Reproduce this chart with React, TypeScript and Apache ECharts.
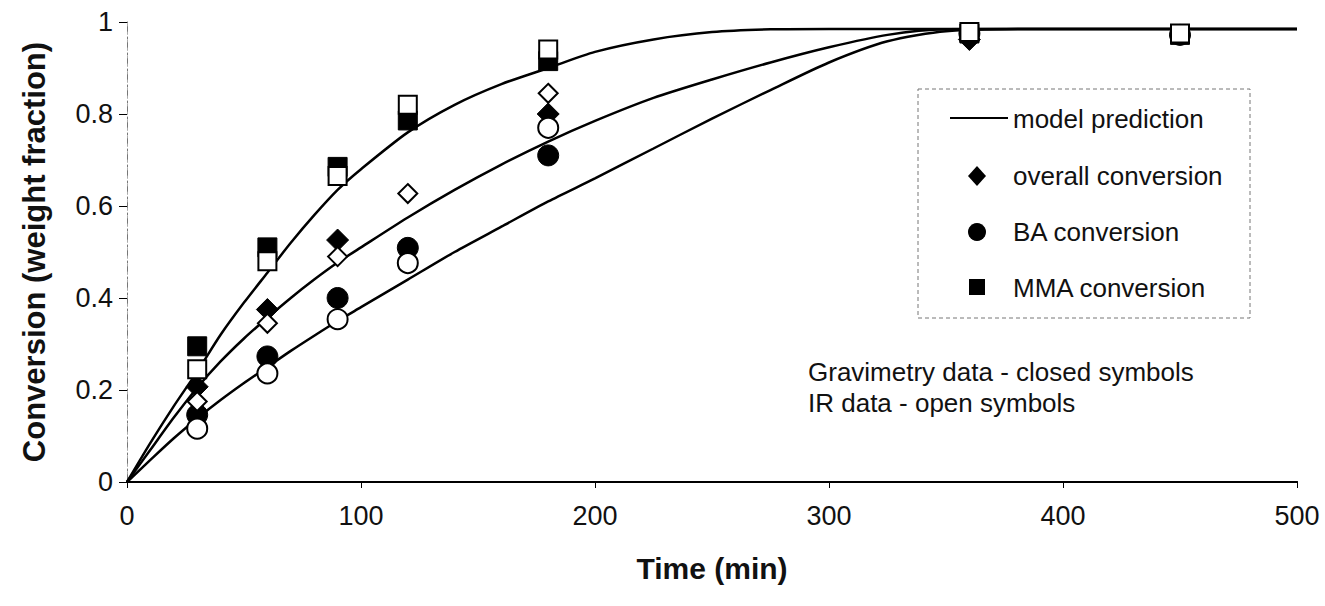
import { useEffect, useRef } from "react";
import * as echarts from "echarts";

// Sampling times (min) of the measured conversions
const sampleTimes = [30, 60, 90, 120, 180, 360, 450];

// Measured conversions: gravimetry (closed symbols) and IR (open symbols)
const overallGrav = [0.207, 0.375, 0.526, null, 0.8, 0.962, null];
const overallIR = [0.175, 0.345, 0.49, 0.627, 0.845, null, null];
const baGrav = [0.146, 0.273, 0.4, 0.509, 0.71, 0.975, 0.972];
const baIR = [0.116, 0.236, 0.354, 0.476, 0.77, null, null];
const mmaGrav = [0.295, 0.51, 0.685, 0.786, 0.915, 0.975, 0.972];
const mmaIR = [0.245, 0.48, 0.665, 0.82, 0.94, 0.978, 0.975];

// Model prediction curves
const modelTimes = [0, 10, 20, 30, 40, 50, 60, 70, 80, 90, 100, 120, 140, 160, 180, 200, 225, 250, 275, 300, 325, 350, 400, 500];
const modelMMA = [0, 0.085, 0.165, 0.24, 0.32, 0.39, 0.455, 0.52, 0.58, 0.635, 0.68, 0.76, 0.82, 0.865, 0.9, 0.935, 0.962, 0.978, 0.984, 0.985, 0.985, 0.985, 0.985, 0.985];
const modelOverall = [0, 0.07, 0.14, 0.205, 0.262, 0.312, 0.357, 0.4, 0.44, 0.477, 0.51, 0.575, 0.635, 0.69, 0.74, 0.785, 0.835, 0.875, 0.912, 0.945, 0.972, 0.984, 0.985, 0.985];
const modelBA = [0, 0.048, 0.095, 0.138, 0.178, 0.215, 0.25, 0.285, 0.318, 0.35, 0.38, 0.44, 0.5, 0.555, 0.61, 0.66, 0.725, 0.79, 0.852, 0.912, 0.958, 0.98, 0.985, 0.985];

const xTickStep = 100;
const yTickStep = 0.2;

const FONT = "'Liberation Sans', Arial, Helvetica, sans-serif";

const pairs = (xs: number[], ys: (number | null)[]) =>
  xs.map((x, i) => [x, ys[i]]).filter((p) => p[1] !== null);

export default function App() {
  const ref = useRef<HTMLDivElement>(null);

  useEffect(() => {
    document.body.style.margin = "0";
    if (!ref.current) return;
    const chart = echarts.init(ref.current, null, { renderer: "svg" });

    const lineSeries = (name: string, ys: number[]) => ({
      name,
      type: "line",
      data: pairs(modelTimes, ys),
      showSymbol: false,
      smooth: 0.25,
      lineStyle: { color: "#000", width: 2.5 },
      z: 2,
      silent: true,
    });

    const closed = (name: string, symbol: string, size: number, ys: (number | null)[]) => ({
      name,
      type: "scatter",
      symbol,
      symbolSize: size,
      data: pairs(sampleTimes, ys),
      itemStyle: { color: "#000", borderColor: "#000", borderWidth: 1, opacity: 1 },
      z: 3,
    });

    const open = (name: string, symbol: string, size: number, ys: (number | null)[]) => ({
      name,
      type: "scatter",
      symbol,
      symbolSize: size,
      data: pairs(sampleTimes, ys),
      itemStyle: { color: "#fff", borderColor: "#000", borderWidth: 2, opacity: 1 },
      z: 4,
    });

    const legendX = 918;
    const legendY = 89;
    const symX = 977;
    const textX = 1013;
    const legendText = (text: string, y: number) => ({
      type: "text",
      x: textX,
      y,
      style: { text, fontSize: 26, fontFamily: FONT, fill: "#111", verticalAlign: "middle" },
    });

    chart.setOption({
      animation: false,
      backgroundColor: "#fff",
      grid: { left: 127, right: 28, top: 22, bottom: 124, containLabel: false },
      xAxis: [
        {
          type: "value",
          min: 0,
          max: 500,
          interval: xTickStep,
          position: "bottom",
          axisLine: { show: true, lineStyle: { color: "#000", width: 2 } },
          axisTick: { show: true, length: 6, lineStyle: { color: "#000", width: 1 } },
          axisLabel: { fontSize: 27, color: "#111", fontFamily: FONT, margin: 20 },
          splitLine: { show: false },
          name: "Time (min)",
          nameLocation: "middle",
          nameGap: 71,
          nameTextStyle: { fontSize: 30, fontWeight: "bold", color: "#111", fontFamily: FONT },
        },
        {
          type: "value",
          min: 0,
          max: 500,
          position: "top",
          axisLine: { show: true, lineStyle: { color: "#000", width: 2 } },
          axisTick: { show: false },
          axisLabel: { show: false },
          splitLine: { show: false },
        },
      ],
      yAxis: [
        {
          type: "value",
          min: 0,
          max: 1,
          interval: yTickStep,
          position: "left",
          axisLine: { show: true, lineStyle: { color: "#777", width: 1, type: [8, 3, 2, 3] } },
          axisTick: { show: true, length: 8, lineStyle: { color: "#000", width: 1 } },
          axisLabel: { fontSize: 27, color: "#111", fontFamily: FONT, margin: 14 },
          splitLine: { show: false },
          name: "Conversion (weight fraction)",
          nameLocation: "middle",
          nameGap: 77,
          nameTextStyle: { fontSize: 31, fontWeight: "bold", color: "#111", fontFamily: FONT },
        },
        {
          type: "value",
          min: 0,
          max: 1,
          position: "right",
          axisLine: { show: true, lineStyle: { color: "#aaa", width: 1, type: [2, 6] } },
          axisTick: { show: false },
          axisLabel: { show: false },
          splitLine: { show: false },
        },
      ],
      series: [
        lineSeries("model prediction", modelMMA),
        lineSeries("model prediction", modelOverall),
        lineSeries("model prediction", modelBA),
        closed("overall conversion (gravimetry)", "diamond", 22, overallGrav),
        closed("BA conversion (gravimetry)", "circle", 21, baGrav),
        closed("MMA conversion (gravimetry)", "rect", 19, mmaGrav),
        open("overall conversion (IR)", "diamond", 19, overallIR),
        open("BA conversion (IR)", "circle", 20, baIR),
        open("MMA conversion (IR)", "rect", 18, mmaIR),
      ],
      graphic: [
        {
          type: "rect",
          silent: true,
          shape: { x: legendX, y: legendY, width: 332, height: 229 },
          style: { fill: "#fff", stroke: "#777", lineWidth: 1, lineDash: [4, 3] },
          z: 10,
        },
        {
          type: "line",
          silent: true,
          shape: { x1: 950, y1: 118, x2: 1008, y2: 118 },
          style: { stroke: "#000", lineWidth: 2 },
          z: 11,
        },
        {
          type: "polygon",
          silent: true,
          shape: { points: [[symX, 166], [symX + 9, 176], [symX, 186], [symX - 9, 176]] },
          style: { fill: "#000" },
          z: 11,
        },
        {
          type: "circle",
          silent: true,
          shape: { cx: symX, cy: 232, r: 9 },
          style: { fill: "#000" },
          z: 11,
        },
        {
          type: "rect",
          silent: true,
          shape: { x: symX - 8, y: 279, width: 16, height: 16 },
          style: { fill: "#000" },
          z: 11,
        },
        { ...legendText("model prediction", 119), silent: true, z: 11 },
        { ...legendText("overall conversion", 176), silent: true, z: 11 },
        { ...legendText("BA conversion", 232), silent: true, z: 11 },
        { ...legendText("MMA conversion", 288), silent: true, z: 11 },
        {
          type: "text",
          silent: true,
          x: 808,
          y: 372,
          style: { text: "Gravimetry data - closed symbols", fontSize: 26, fontFamily: FONT, fill: "#111", verticalAlign: "middle" },
          z: 11,
        },
        {
          type: "text",
          silent: true,
          x: 808,
          y: 403,
          style: { text: "IR data - open symbols", fontSize: 26, fontFamily: FONT, fill: "#111", verticalAlign: "middle" },
          z: 11,
        },
      ],
    });

    return () => chart.dispose();
  }, []);

  return <div ref={ref} style={{ width: 1325, height: 606 }} />;
}
